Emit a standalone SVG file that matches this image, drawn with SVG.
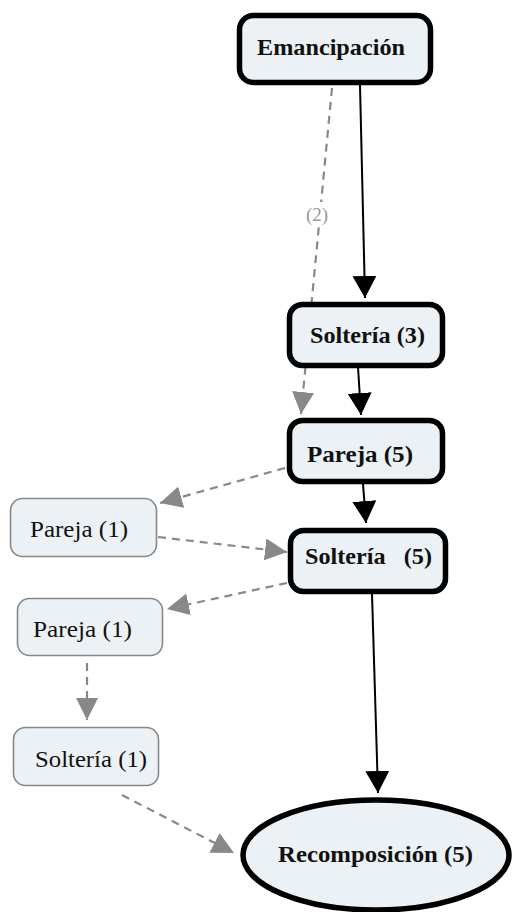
<svg xmlns="http://www.w3.org/2000/svg" width="515" height="912" viewBox="0 0 515 912">
<defs>
<style>
.thick{fill:#ebf1f4;stroke:#000;stroke-width:5.5}
.thin{fill:#ebf1f4;stroke:#888;stroke-width:1.6}
text{font-family:'Liberation Serif',serif}
.bt{font-weight:bold;font-size:23px;fill:#111}
.rt{font-size:23px;fill:#111}
.solid{stroke:#000;stroke-width:2;fill:none}
.dash{stroke:#888;stroke-width:2.2;stroke-dasharray:8 6;fill:none}
.lbl{font-size:19px;fill:#999}
</style>
<marker id="ab" viewBox="0 0 22 24" refX="22" refY="12" markerWidth="22" markerHeight="24" markerUnits="userSpaceOnUse" orient="auto">
<path d="M0,0 L22,12 L0,24 Z" fill="#000"/>
</marker>
<marker id="ag" viewBox="0 0 22 22" refX="22" refY="11" markerWidth="22" markerHeight="22" markerUnits="userSpaceOnUse" orient="auto">
<path d="M0,0 L22,11 L0,22 Z" fill="#888"/>
</marker>
</defs>
<rect width="515" height="912" fill="#fff"/>
<g id="connectors">
<line class="solid" x1="360" y1="85" x2="365" y2="298" marker-end="url(#ab)"/>
<line class="dash" x1="332" y1="88" x2="301" y2="414" marker-end="url(#ag)"/>
<line class="solid" x1="358" y1="367" x2="361" y2="415" marker-end="url(#ab)"/>
<line class="solid" x1="363" y1="484" x2="366" y2="523" marker-end="url(#ab)"/>
<line class="solid" x1="372" y1="594" x2="378" y2="793" marker-end="url(#ab)"/>
<line class="dash" x1="285" y1="468" x2="160" y2="503" marker-end="url(#ag)"/>
<line class="dash" x1="158" y1="537" x2="287" y2="552" marker-end="url(#ag)"/>
<line class="dash" x1="287" y1="583" x2="167" y2="609" marker-end="url(#ag)"/>
<line class="dash" x1="87" y1="663" x2="87" y2="720" marker-end="url(#ag)"/>
<line class="dash" x1="122" y1="795" x2="234" y2="853" marker-end="url(#ag)"/>
<rect x="302" y="202" width="32" height="24" fill="#fff"/>
<text class="lbl" x="317" y="221" text-anchor="middle">(2)</text>
</g>
<g id="emancipacion">
<rect class="thick" x="239.5" y="15.5" width="191" height="67" rx="14"/>
<text class="bt" x="257" y="55" textLength="148" lengthAdjust="spacingAndGlyphs">Emancipación</text>
</g>
<g id="solteria3">
<rect class="thick" x="289.5" y="304.5" width="153" height="61" rx="13"/>
<text class="bt" x="310" y="343" textLength="115" lengthAdjust="spacingAndGlyphs">Soltería (3)</text>
</g>
<g id="pareja5">
<rect class="thick" x="289.5" y="420.5" width="153" height="61" rx="13"/>
<text class="bt" x="307" y="462" textLength="106" lengthAdjust="spacingAndGlyphs">Pareja (5)</text>
</g>
<g id="solteria5">
<rect class="thick" x="290.5" y="530.5" width="155" height="61" rx="13"/>
<text class="bt" x="305" y="564" textLength="127" lengthAdjust="spacingAndGlyphs" xml:space="preserve">Soltería   (5)</text>
</g>
<g id="pareja1a">
<rect class="thin" x="10.5" y="498.5" width="146" height="58" rx="12"/>
<text class="rt" x="30" y="537" textLength="98" lengthAdjust="spacingAndGlyphs">Pareja (1)</text>
</g>
<g id="pareja1b">
<rect class="thin" x="17.5" y="598.5" width="145" height="57" rx="12"/>
<text class="rt" x="33" y="637" textLength="99" lengthAdjust="spacingAndGlyphs">Pareja (1)</text>
</g>
<g id="solteria1">
<rect class="thin" x="13.5" y="727.5" width="145" height="58" rx="12"/>
<text class="rt" x="35" y="767" textLength="112" lengthAdjust="spacingAndGlyphs">Soltería (1)</text>
</g>
<g id="recomposicion">
<ellipse class="thick" cx="376" cy="855" rx="133" ry="55"/>
<text class="bt" x="278" y="862" textLength="195" lengthAdjust="spacingAndGlyphs">Recomposición (5)</text>
</g>
</svg>
